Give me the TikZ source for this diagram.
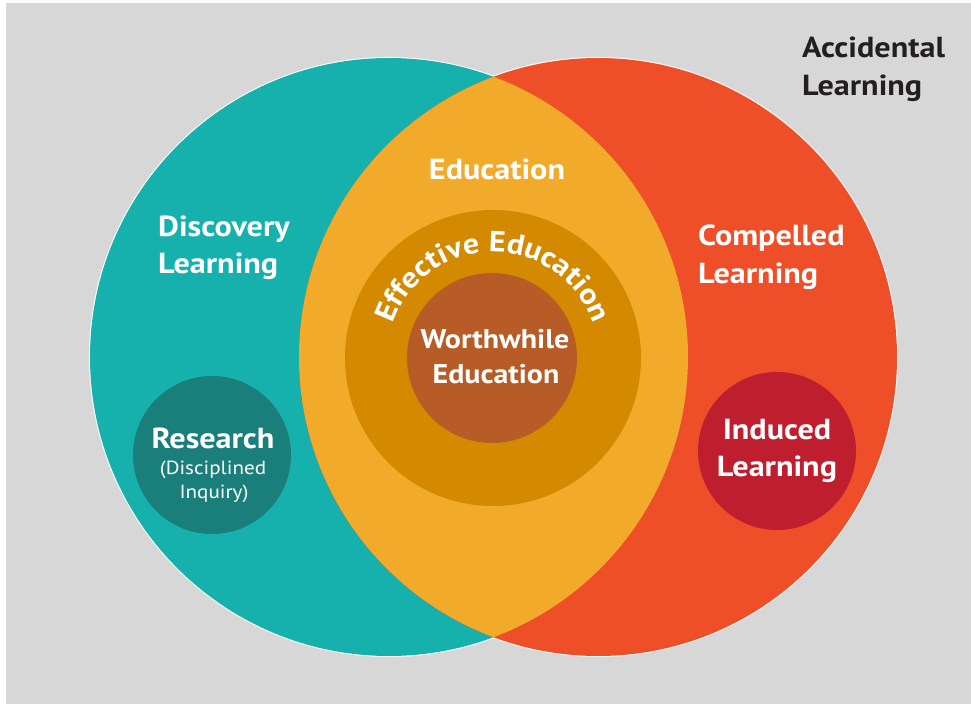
\documentclass[tikz,border=0pt]{standalone}
\usepackage{fontspec}
\setmainfont{PT Sans}[FakeStretch=1.11]
\usetikzlibrary{decorations.text}
\definecolor{bggray}{HTML}{D7D7D7}
\definecolor{tealc}{HTML}{17B1AD}
\definecolor{redc}{HTML}{EE4E28}
\definecolor{lensc}{HTML}{F1AA2A}
\definecolor{effc}{HTML}{D38900}
\definecolor{worthc}{HTML}{B75C27}
\definecolor{resc}{HTML}{1A7F7B}
\definecolor{indc}{HTML}{BF1E2E}
\definecolor{darktext}{HTML}{231F20}
\begin{document}
\begin{tikzpicture}[x=1pt,y=1pt,
  lbl/.style={inner sep=0pt, text=white, font=\bfseries\fontsize{29}{29}\selectfont},
  sublbl/.style={inner sep=0pt, text=white, font=\fontsize{19}{19}\selectfont}]
\useasboundingbox (0,0) rectangle (971,704);
\fill[white] (0,0) rectangle (971,704);
\fill[bggray] (6,0) rectangle (971,701);
% white rims
\draw[white, line width=2] (389,347) circle (299);
\draw[white, line width=2] (598,347) circle (299);
% main circles
\fill[tealc] (389,347) circle (299);
\fill[redc] (598,347) circle (299);
\begin{scope}
  \clip (389,347) circle (299);
  \fill[lensc] (598,347) circle (299);
\end{scope}
% inner circles
\fill[effc] (493,346) circle (148);
\fill[worthc] (492,346) circle (85);
\fill[resc] (212,249) circle (79);
\fill[indc] (777,253) circle (79);
% arc text
\path[decorate, decoration={text along path, text align=center, text color=white,
  text={|\bfseries\fontsize{29}{29}\selectfont|Effective Education}}]
  (493,346) ++(165:106) arc[start angle=165, end angle=15, radius=106];
% labels
\node[lbl, anchor=base west, text=darktext] (acc1) at (802,646) {Accidental};
\node[lbl, anchor=base west, text=darktext] (acc2) at (802,608) {Learning};
\node[lbl, anchor=base] (edu) at (497,524) {Education};
\node[lbl, anchor=base west] (disc1) at (158,467) {Discovery};
\node[lbl, anchor=base west] (disc2) at (158,430) {Learning};
\node[lbl, anchor=base west] (comp1) at (698,458) {Compelled};
\node[lbl, anchor=base west] (comp2) at (698,420) {Learning};
\node[lbl, anchor=base, font=\bfseries\fontsize{27}{27}\selectfont] (worth1) at (495,355) {Worthwhile};
\node[lbl, anchor=base, font=\bfseries\fontsize{27}{27}\selectfont] (worth2) at (496,320) {Education};
\node[lbl, anchor=base] (res1) at (213,255) {Research};
\node[sublbl, anchor=base] (res2) at (213,229) {(Disciplined};
\node[sublbl, anchor=base] (res3) at (214,205) {Inquiry)};
\node[lbl, anchor=base] (ind1) at (777,264) {Induced};
\node[lbl, anchor=base] (ind2) at (777,227) {Learning};
\end{tikzpicture}
\end{document}
